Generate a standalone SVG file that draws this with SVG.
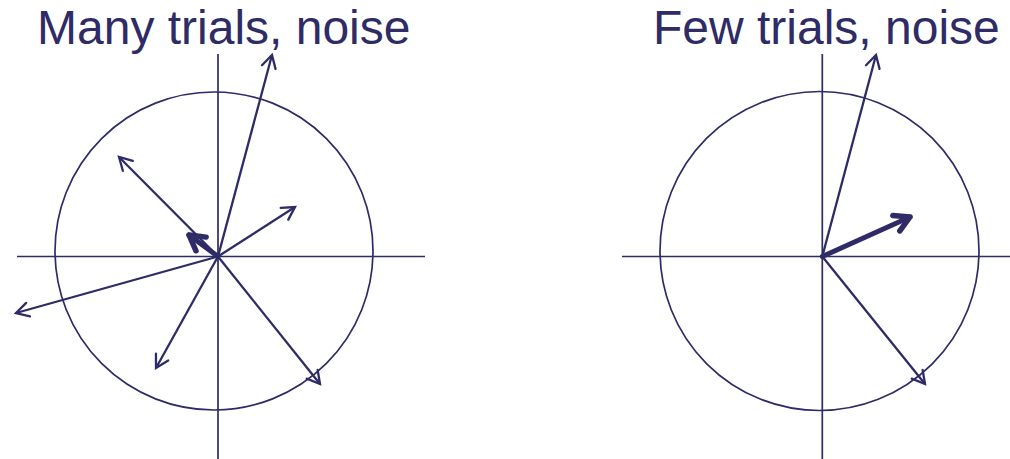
<svg xmlns="http://www.w3.org/2000/svg" width="1010" height="459" viewBox="0 0 1010 459">
<style>
.ax{stroke:#2e2b66;stroke-width:1.7;fill:none}
.ar{stroke:#2e2b66;stroke-width:2.3;fill:none;marker-end:url(#open)}
.bd{stroke:#2e2b66;stroke-width:5;fill:none;stroke-linecap:round;marker-end:url(#bold)}
.t{font-family:"Liberation Sans",Arial,sans-serif;font-size:48px;fill:#2e2b66}
</style>
<defs>
<marker id="open" markerUnits="userSpaceOnUse" viewBox="-16 -10 20 20" markerWidth="20" markerHeight="20" refX="0" refY="0" orient="auto" overflow="visible">
<path d="M-12.5,-7 L0,0 L-12.5,7" fill="none" stroke="#2e2b66" stroke-width="2.3" stroke-linecap="round"/>
</marker>
<marker id="bold" markerUnits="userSpaceOnUse" viewBox="-20 -12 24 24" markerWidth="24" markerHeight="24" refX="0" refY="0" orient="auto" overflow="visible">
<path d="M-15,-8.5 L0,0 L-15,8.5" fill="none" stroke="#2e2b66" stroke-width="5.5" stroke-linecap="round" stroke-linejoin="round"/>
</marker>
</defs>
<g id="left-panel">
<text class="t" x="37" y="44">Many trials, noise</text>
<circle class="ax" cx="214" cy="251" r="159"/>
<line class="ax" x1="17" y1="256.5" x2="425" y2="256.5"/>
<line class="ax" x1="218" y1="54" x2="218" y2="459"/>
</g>
<g id="left-arrows">
<line class="ar" x1="218" y1="256.5" x2="272" y2="55"/>
<line class="ar" x1="218" y1="256.5" x2="119" y2="157"/>
<line class="ar" x1="218" y1="256.5" x2="295" y2="207"/>
<line class="ar" x1="218" y1="256.5" x2="16" y2="313"/>
<line class="ar" x1="218" y1="256.5" x2="156" y2="368"/>
<line class="ar" x1="218" y1="256.5" x2="320" y2="384"/>
<line class="bd" x1="218" y1="256.5" x2="189" y2="235"/>
</g>
<g id="right-panel">
<text class="t" x="653" y="44">Few trials, noise</text>
<circle class="ax" cx="819.5" cy="251" r="159.5"/>
<line class="ax" x1="622" y1="256.5" x2="1010" y2="256.5"/>
<line class="ax" x1="822.3" y1="54" x2="822.3" y2="459"/>
</g>
<g id="right-arrows">
<line class="ar" x1="822.3" y1="256.5" x2="876" y2="55"/>
<line class="ar" x1="822.3" y1="256.5" x2="925" y2="384"/>
<line class="bd" x1="822.3" y1="256.5" x2="910" y2="217"/>
</g>
</svg>
